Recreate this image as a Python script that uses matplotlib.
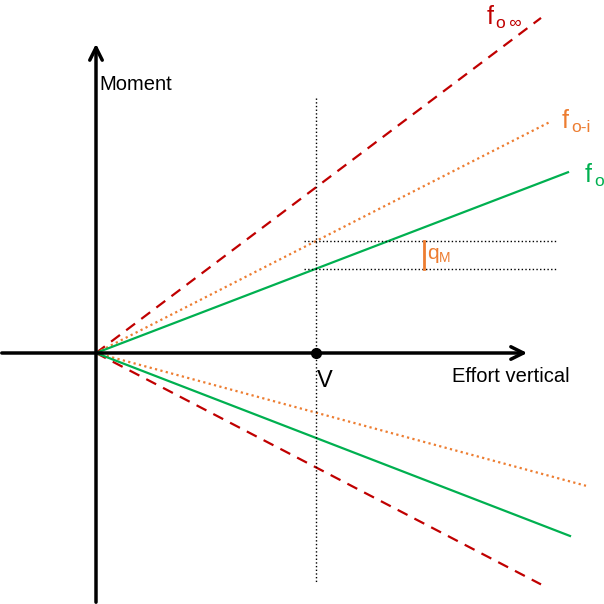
import matplotlib.pyplot as plt
import numpy as np

plt.rcParams['font.family'] = ['Liberation Sans', 'DejaVu Sans']

# droites issues de l'origine : (pente, x de fin) en haut et en bas
series = ['f_o_inf', 'f_o_i', 'f_o']
slopes_up = [0.753, 0.509, 0.383]
x_end_up = [445, 454, 472]
slopes_down = [-0.52, -0.271, -0.386]
x_end_down = [445, 490, 474]
colors = ['#C00000', '#ED7D31', '#00B050']
styles = [(0, (5, 3.5)), (0, (1, 1.5)), '-']
subscripts = ['o\u2009\u221e', 'o-i', 'o']
label_pos = [(391, 336), (466, 232), (489, 178)]

V = 220  # effort vertical V

fig = plt.figure(figsize=(6.04, 6.04), dpi=100)
ax = fig.add_axes([0, 0, 1, 1])
ax.set_xlim(-96, 508)
ax.set_ylim(-251, 353)
ax.axis('off')

for s_u, xu, s_d, xd, c, ls in zip(slopes_up, x_end_up, slopes_down, x_end_down, colors, styles):
    ax.plot([0, xu], [0, s_u * xu], color=c, linestyle=ls, lw=1.6)
    ax.plot([0, xd], [0, s_d * xd], color=c, linestyle=ls, lw=1.6)

# libellés f + indice un peu plus gros que le mathtext
for sub, (lx, ly), c in zip(subscripts, label_pos, colors):
    ax.text(lx, ly, 'f', color=c, fontsize=18, ha='left', va='center')
    ax.annotate(sub, xy=(lx, ly), xytext=(9, -6), textcoords='offset pixels',
                color=c, fontsize=12.5, ha='left', va='center')

# axes avec flèches
ax.annotate('', xy=(434, 0), xytext=(-97, 0),
            arrowprops=dict(arrowstyle='->,head_length=0.9,head_width=0.45', lw=2.5, color='black'))
ax.annotate('', xy=(0, 312), xytext=(0, -252),
            arrowprops=dict(arrowstyle='->,head_length=0.9,head_width=0.45', lw=2.5, color='black'))
ax.text(3, 268, 'Moment', fontsize=14.5, ha='left', va='center')
ax.text(356, -23, 'Effort vertical', fontsize=14.5, ha='left', va='center')

# verticale en V et report des moments
ax.plot([V, V], [255, -229], color='black', linestyle=':', lw=1)
ax.plot(V, 0, 'o', color='black', ms=7)
ax.text(221, -28, 'V', fontsize=17, ha='left', va='center')
m_i = slopes_up[1] * V
m_o = slopes_up[2] * V
ax.plot([208, 460], [m_i, m_i], color='black', linestyle=':', lw=1)
ax.plot([208, 460], [m_o, m_o], color='black', linestyle=':', lw=1)
ax.plot([328, 328], [m_o, m_i], color='#ED7D31', lw=2)
ax.text(331, (m_o + m_i) / 2 + 1, 'q', color='#ED7D31', fontsize=15, ha='left', va='center')
ax.text(343, (m_o + m_i) / 2 - 3, 'M', color='#ED7D31', fontsize=10, ha='left', va='center')

plt.savefig('out.png', dpi=100)
